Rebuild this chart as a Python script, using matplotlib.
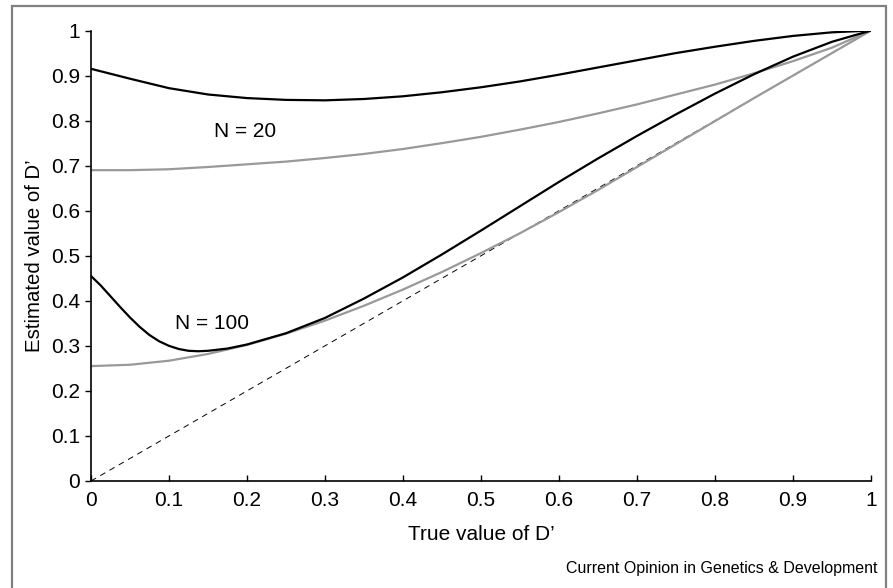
import matplotlib
matplotlib.use("Agg")
import matplotlib.pyplot as plt
from matplotlib.patches import Rectangle

# true D' grid (0.05 steps)
true_d = [0.00, 0.05, 0.10, 0.15, 0.20, 0.25, 0.30, 0.35, 0.40, 0.45, 0.50,
          0.55, 0.60, 0.65, 0.70, 0.75, 0.80, 0.85, 0.90, 0.95, 1.00]

# N = 20
n20_black = [0.915, 0.893, 0.872, 0.858, 0.850, 0.846, 0.845, 0.848, 0.854, 0.863, 0.874,
             0.887, 0.902, 0.918, 0.934, 0.950, 0.964, 0.977, 0.988, 0.996, 1.000]
n20_gray = [0.690, 0.690, 0.692, 0.697, 0.703, 0.709, 0.717, 0.726, 0.737, 0.750, 0.764,
            0.780, 0.797, 0.816, 0.836, 0.858, 0.880, 0.905, 0.932, 0.962, 1.000]

# N = 100 (black curve read more finely around its dip)
n100_x = [0.00, 0.0125, 0.025, 0.0375, 0.05, 0.0625, 0.075, 0.0875, 0.10, 0.1125, 0.125,
          0.1375, 0.15, 0.175, 0.20, 0.25, 0.30, 0.35, 0.40, 0.45, 0.50, 0.55, 0.60,
          0.65, 0.70, 0.75, 0.80, 0.85, 0.90, 0.95, 1.00]
n100_black = [0.455, 0.434, 0.410, 0.386, 0.363, 0.342, 0.324, 0.310, 0.300, 0.293, 0.289,
              0.288, 0.289, 0.294, 0.303, 0.328, 0.362, 0.405, 0.452, 0.503, 0.556, 0.610,
              0.664, 0.716, 0.766, 0.814, 0.860, 0.903, 0.942, 0.975, 1.000]
n100_gray = [0.255, 0.258, 0.267, 0.282, 0.302, 0.327, 0.356, 0.389, 0.425, 0.464, 0.506,
             0.550, 0.597, 0.646, 0.697, 0.748, 0.799, 0.850, 0.900, 0.950, 1.000]

x_ticks = [0, 0.1, 0.2, 0.3, 0.4, 0.5, 0.6, 0.7, 0.8, 0.9, 1]
tick_labels = ["0", "0.1", "0.2", "0.3", "0.4", "0.5", "0.6", "0.7", "0.8", "0.9", "1"]

plt.rcParams["font.family"] = ["Liberation Sans", "DejaVu Sans"]

fig = plt.figure(figsize=(8.93, 5.88), dpi=100)
ax = fig.add_axes([0.1019, 0.182, 0.8735, 0.7661])

black = "#000000"
gray = "#999999"

ax.plot([0, 1], [0, 1], color=black, lw=0.7, ls=(0, (6, 5)))
ax.plot(true_d, n20_gray, color=gray, lw=1.6)
ax.plot(true_d, n100_gray, color=gray, lw=1.6)
ax.plot(true_d, n20_black, color=black, lw=1.6)
ax.plot(n100_x, n100_black, color=black, lw=1.6)

ax.text(0.158, 0.775, "N = 20", fontsize=15, va="center", ha="left")
ax.text(0.108, 0.35, "N = 100", fontsize=15, va="center", ha="left")

ax.set_xlim(0, 1)
ax.set_ylim(0, 1)
ax.set_xticks(x_ticks)
ax.set_xticklabels(tick_labels)
ax.set_yticks(x_ticks)
ax.set_yticklabels(tick_labels)
ax.tick_params(axis="both", labelsize=15, length=4, width=1)
ax.tick_params(axis="x", direction="in", pad=7)
ax.tick_params(axis="y", direction="out", pad=4)
for side in ["top", "right"]:
    ax.spines[side].set_visible(False)
for side in ["left", "bottom"]:
    ax.spines[side].set_linewidth(1.2)

ax.set_xlabel("True value of D\u2019", fontsize=15, labelpad=11)
ax.set_ylabel("Estimated value of D\u2019", fontsize=14.7, labelpad=5)

fig.text(0.983, 0.034, "Current Opinion in Genetics & Development", fontsize=11.5,
         ha="right", va="center")

# grey frame round the panel
frame = Rectangle((12 / 893, -0.02), 874 / 893, 1.02 - 6 / 588, transform=fig.transFigure,
                  fill=False, edgecolor="#808080", lw=1.6, clip_on=False)
fig.patches.append(frame)

fig.savefig("out.png", dpi=100)
